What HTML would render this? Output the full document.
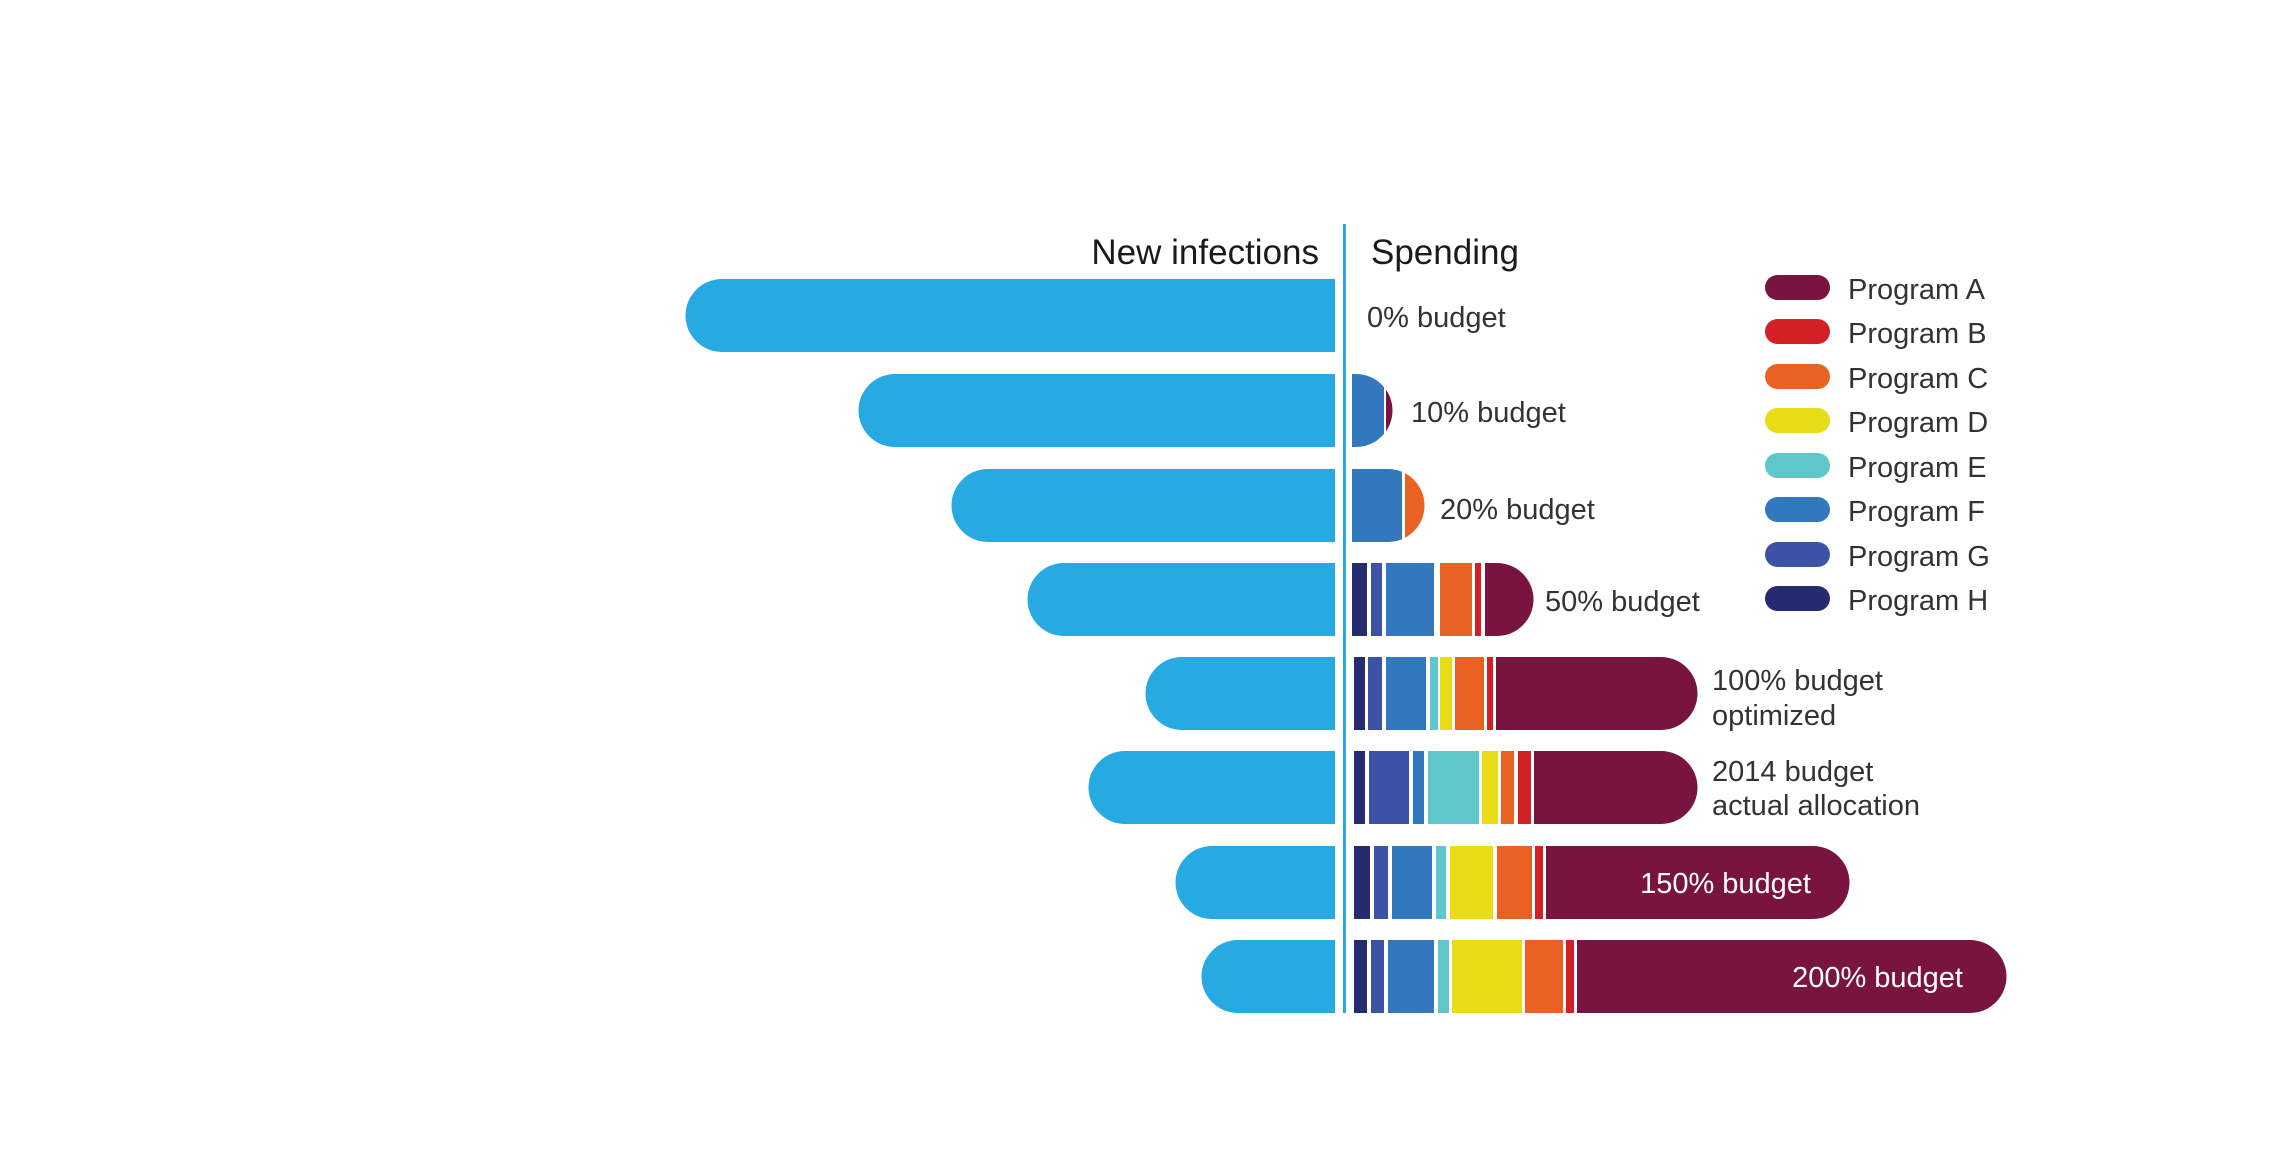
<!DOCTYPE html>
<html><head><meta charset="utf-8"><style>
html,body{margin:0;padding:0;background:#fff;}
svg{display:block;font-family:"Liberation Sans",sans-serif;}
.l{font-size:29px;fill:#333;}
.w{font-size:29px;fill:#fff;}
.h{font-size:35px;fill:#1a1a1a;}
</style></head><body>
<svg width="2271" height="1151" viewBox="0 0 2271 1151">
<defs>
<clipPath id="c2"><path d="M1358,376 H1362 A36.5,36.5 0 0 1 1362,449 H1358 Z"/></clipPath>
<clipPath id="c3"><path d="M1358,471 H1394 A36.5,36.5 0 0 1 1394,544 H1358 Z"/></clipPath>
<clipPath id="c4"><path d="M1358,565 H1503 A36.5,36.5 0 0 1 1503,638 H1358 Z"/></clipPath>
<clipPath id="c5"><path d="M1358,659 H1667 A36.5,36.5 0 0 1 1667,732 H1358 Z"/></clipPath>
<clipPath id="c6"><path d="M1358,753 H1667 A36.5,36.5 0 0 1 1667,826 H1358 Z"/></clipPath>
<clipPath id="c7"><path d="M1358,848 H1819 A36.5,36.5 0 0 1 1819,921 H1358 Z"/></clipPath>
<clipPath id="c8"><path d="M1358,942 H1976 A36.5,36.5 0 0 1 1976,1015 H1358 Z"/></clipPath>
</defs>
<g transform="translate(-6,-2)">
<g fill="#27aae1">
<path d="M728,281 H1341 V354 H728 A36.5,36.5 0 0 1 728,281 Z"/>
<path d="M901,376 H1341 V449 H901 A36.5,36.5 0 0 1 901,376 Z"/>
<path d="M994,471 H1341 V544 H994 A36.5,36.5 0 0 1 994,471 Z"/>
<path d="M1070,565 H1341 V638 H1070 A36.5,36.5 0 0 1 1070,565 Z"/>
<path d="M1188,659 H1341 V732 H1188 A36.5,36.5 0 0 1 1188,659 Z"/>
<path d="M1131,753 H1341 V826 H1131 A36.5,36.5 0 0 1 1131,753 Z"/>
<path d="M1218,848 H1341 V921 H1218 A36.5,36.5 0 0 1 1218,848 Z"/>
<path d="M1244,942 H1341 V1015 H1244 A36.5,36.5 0 0 1 1244,942 Z"/>
</g>
<rect x="1349" y="226" width="3" height="789" fill="#27aae1"/>
<g clip-path="url(#c2)"><rect x="1358" y="376" width="32" height="73" fill="#3378be"/><rect x="1392" y="376" width="10" height="73" fill="#78143f"/></g>
<g clip-path="url(#c3)"><rect x="1358" y="471" width="50" height="73" fill="#3378be"/><rect x="1411" y="471" width="25" height="73" fill="#ea6124"/></g>
<g clip-path="url(#c4)">
<rect x="1358" y="565" width="15" height="73" fill="#262b70"/><rect x="1377" y="565" width="11" height="73" fill="#3c52a4"/><rect x="1392" y="565" width="48" height="73" fill="#3378be"/><rect x="1446" y="565" width="32" height="73" fill="#ea6124"/><rect x="1481" y="565" width="6" height="73" fill="#d32027"/><rect x="1491" y="565" width="60" height="73" fill="#78143f"/></g>
<g clip-path="url(#c5)">
<rect x="1360" y="659" width="11" height="73" fill="#262b70"/><rect x="1374" y="659" width="14" height="73" fill="#3c52a4"/><rect x="1392" y="659" width="40" height="73" fill="#3378be"/><rect x="1436" y="659" width="8" height="73" fill="#5fc6cc"/><rect x="1446" y="659" width="12" height="73" fill="#e8dc16"/><rect x="1461" y="659" width="29" height="73" fill="#ea6124"/><rect x="1493" y="659" width="6" height="73" fill="#d32027"/><rect x="1502" y="659" width="210" height="73" fill="#78143f"/></g>
<g clip-path="url(#c6)">
<rect x="1360" y="753" width="11" height="73" fill="#262b70"/><rect x="1375" y="753" width="40" height="73" fill="#3c52a4"/><rect x="1419" y="753" width="11" height="73" fill="#3378be"/><rect x="1434" y="753" width="51" height="73" fill="#5fc6cc"/><rect x="1488" y="753" width="16" height="73" fill="#e8dc16"/><rect x="1507" y="753" width="13" height="73" fill="#ea6124"/><rect x="1524" y="753" width="13" height="73" fill="#d32027"/><rect x="1540" y="753" width="170" height="73" fill="#78143f"/></g>
<g clip-path="url(#c7)">
<rect x="1360" y="848" width="16" height="73" fill="#262b70"/><rect x="1380" y="848" width="14" height="73" fill="#3c52a4"/><rect x="1398" y="848" width="40" height="73" fill="#3378be"/><rect x="1442" y="848" width="10" height="73" fill="#5fc6cc"/><rect x="1456" y="848" width="43" height="73" fill="#e8dc16"/><rect x="1503" y="848" width="35" height="73" fill="#ea6124"/><rect x="1541" y="848" width="8" height="73" fill="#d32027"/><rect x="1552" y="848" width="310" height="73" fill="#78143f"/></g>
<g clip-path="url(#c8)">
<rect x="1360" y="942" width="13" height="73" fill="#262b70"/><rect x="1377" y="942" width="13" height="73" fill="#3c52a4"/><rect x="1394" y="942" width="46" height="73" fill="#3378be"/><rect x="1444" y="942" width="11" height="73" fill="#5fc6cc"/><rect x="1458" y="942" width="70" height="73" fill="#e8dc16"/><rect x="1531" y="942" width="38" height="73" fill="#ea6124"/><rect x="1572" y="942" width="8" height="73" fill="#d32027"/><rect x="1583" y="942" width="440" height="73" fill="#78143f"/></g>
<text class="h" x="1325" y="266" text-anchor="end">New infections</text>
<text class="h" x="1377" y="266">Spending</text>
<text class="l" x="1373" y="329">0% budget</text>
<text class="l" x="1417" y="424">10% budget</text>
<text class="l" x="1446" y="521">20% budget</text>
<text class="l" x="1551" y="613">50% budget</text>
<text class="l" x="1718" y="692">100% budget</text>
<text class="l" x="1718" y="727">optimized</text>
<text class="l" x="1718" y="783">2014 budget</text>
<text class="l" x="1718" y="817">actual allocation</text>
<text class="w" x="1817" y="895" text-anchor="end">150% budget</text>
<text class="w" x="1969" y="989" text-anchor="end">200% budget</text>
<g>
<rect x="1771" y="277" width="65" height="25" rx="12.5" fill="#78143f"/>
<rect x="1771" y="321" width="65" height="25" rx="12.5" fill="#d32027"/>
<rect x="1771" y="366" width="65" height="25" rx="12.5" fill="#ea6124"/>
<rect x="1771" y="410" width="65" height="25" rx="12.5" fill="#e8dc16"/>
<rect x="1771" y="455" width="65" height="25" rx="12.5" fill="#5fc6cc"/>
<rect x="1771" y="499" width="65" height="25" rx="12.5" fill="#3378be"/>
<rect x="1771" y="544" width="65" height="25" rx="12.5" fill="#3c52a4"/>
<rect x="1771" y="588" width="65" height="25" rx="12.5" fill="#262b70"/>
</g>
<g class="l">
<text x="1854" y="301">Program A</text>
<text x="1854" y="345">Program B</text>
<text x="1854" y="390">Program C</text>
<text x="1854" y="434">Program D</text>
<text x="1854" y="479">Program E</text>
<text x="1854" y="523">Program F</text>
<text x="1854" y="568">Program G</text>
<text x="1854" y="612">Program H</text>
</g>
</g>
</svg>
</body></html>
